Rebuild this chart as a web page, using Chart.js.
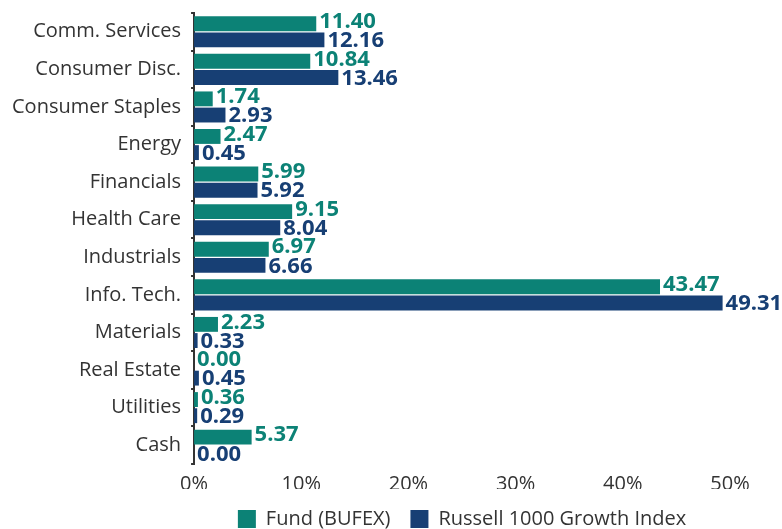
<!DOCTYPE html>
<html><head><meta charset="utf-8">
<script src="https://cdn.jsdelivr.net/npm/chart.js@4/dist/chart.umd.min.js"></script>
<style>html,body{margin:0;padding:0;background:#fff}#wrap{width:782px;height:529px}</style>
</head><body><div id="wrap"><canvas id="c"></canvas></div>
<script>
const categories = ["Comm. Services","Consumer Disc.","Consumer Staples","Energy","Financials","Health Care","Industrials","Info. Tech.","Materials","Real Estate","Utilities","Cash"];
const fundValues = [11.40,10.84,1.74,2.47,5.99,9.15,6.97,43.47,2.23,0.00,0.36,5.37];
const indexValues = [12.16,13.46,2.93,0.45,5.92,8.04,6.66,49.31,0.33,0.45,0.29,0.00];
const seriesNames = ["Fund (BUFEX)","Russell 1000 Growth Index"];
const xTicks = [0,10,20,30,40,50];
const TEAL = "#0c8276", NAVY = "#173f74";

const labelPlugin = {
  id: "barLabels",
  afterDatasetsDraw(chart) {
    const ctx = chart.ctx;
    ctx.save();
    ctx.font = "bold 22px 'Open Sans'";
    ctx.textAlign = "left";
    ctx.textBaseline = "middle";
    chart.data.datasets.forEach((ds, di) => {
      const meta = chart.getDatasetMeta(di);
      meta.data.forEach((bar, i) => {
        ctx.fillStyle = ds.backgroundColor;
        const dy = di === 0 ? -2 : 1;
        ctx.fillText(ds.data[i].toFixed(2), bar.x + 3, bar.y + dy);
      });
    });
    ctx.restore();
  }
};

new Chart(document.getElementById("c"), {
  type: "bar",
  data: {
    labels: categories,
    datasets: [
      {label: seriesNames[0], data: fundValues, backgroundColor: TEAL, categoryPercentage: 0.86, barPercentage: 0.92},
      {label: seriesNames[1], data: indexValues, backgroundColor: NAVY, categoryPercentage: 0.86, barPercentage: 0.92}
    ]
  },
  options: {
    indexAxis: "y",
    responsive: true,
    maintainAspectRatio: false,
    animation: false,
    layout: {padding: {top: 13, right: 52, left: 2, bottom: -10}},
    plugins: {
      legend: {
        position: "bottom",
        fullSize: false,
        labels: {boxWidth: 18, boxHeight: 18, padding: 20, color: "#333", font: {family: "'Open Sans'", size: 20}}
      },
      tooltip: {enabled: false}
    },
    scales: {
      x: {
        min: 0, max: 50,
        afterBuildTicks(axis) { axis.ticks = xTicks.map(v => ({value: v})); },
        afterFit(axis) { axis.height = 25; },
        grid: {display: false, drawTicks: false},
        border: {display: false},
        ticks: {color: "#333", padding: 8, font: {family: "'Open Sans'", size: 20}, callback: v => v + "%"}
      },
      y: {
        afterFit(axis) { axis.paddingTop = 0; axis.paddingBottom = 0; },
        grid: {display: true, drawOnChartArea: false, offset: true, tickLength: 3, color: "#333", lineWidth: 2},
        border: {display: true, color: "#333", width: 2},
        ticks: {color: "#333", padding: 10, font: {family: "'Open Sans'", size: 20}}
      }
    }
  },
  plugins: [labelPlugin]
});
</script></body></html>
